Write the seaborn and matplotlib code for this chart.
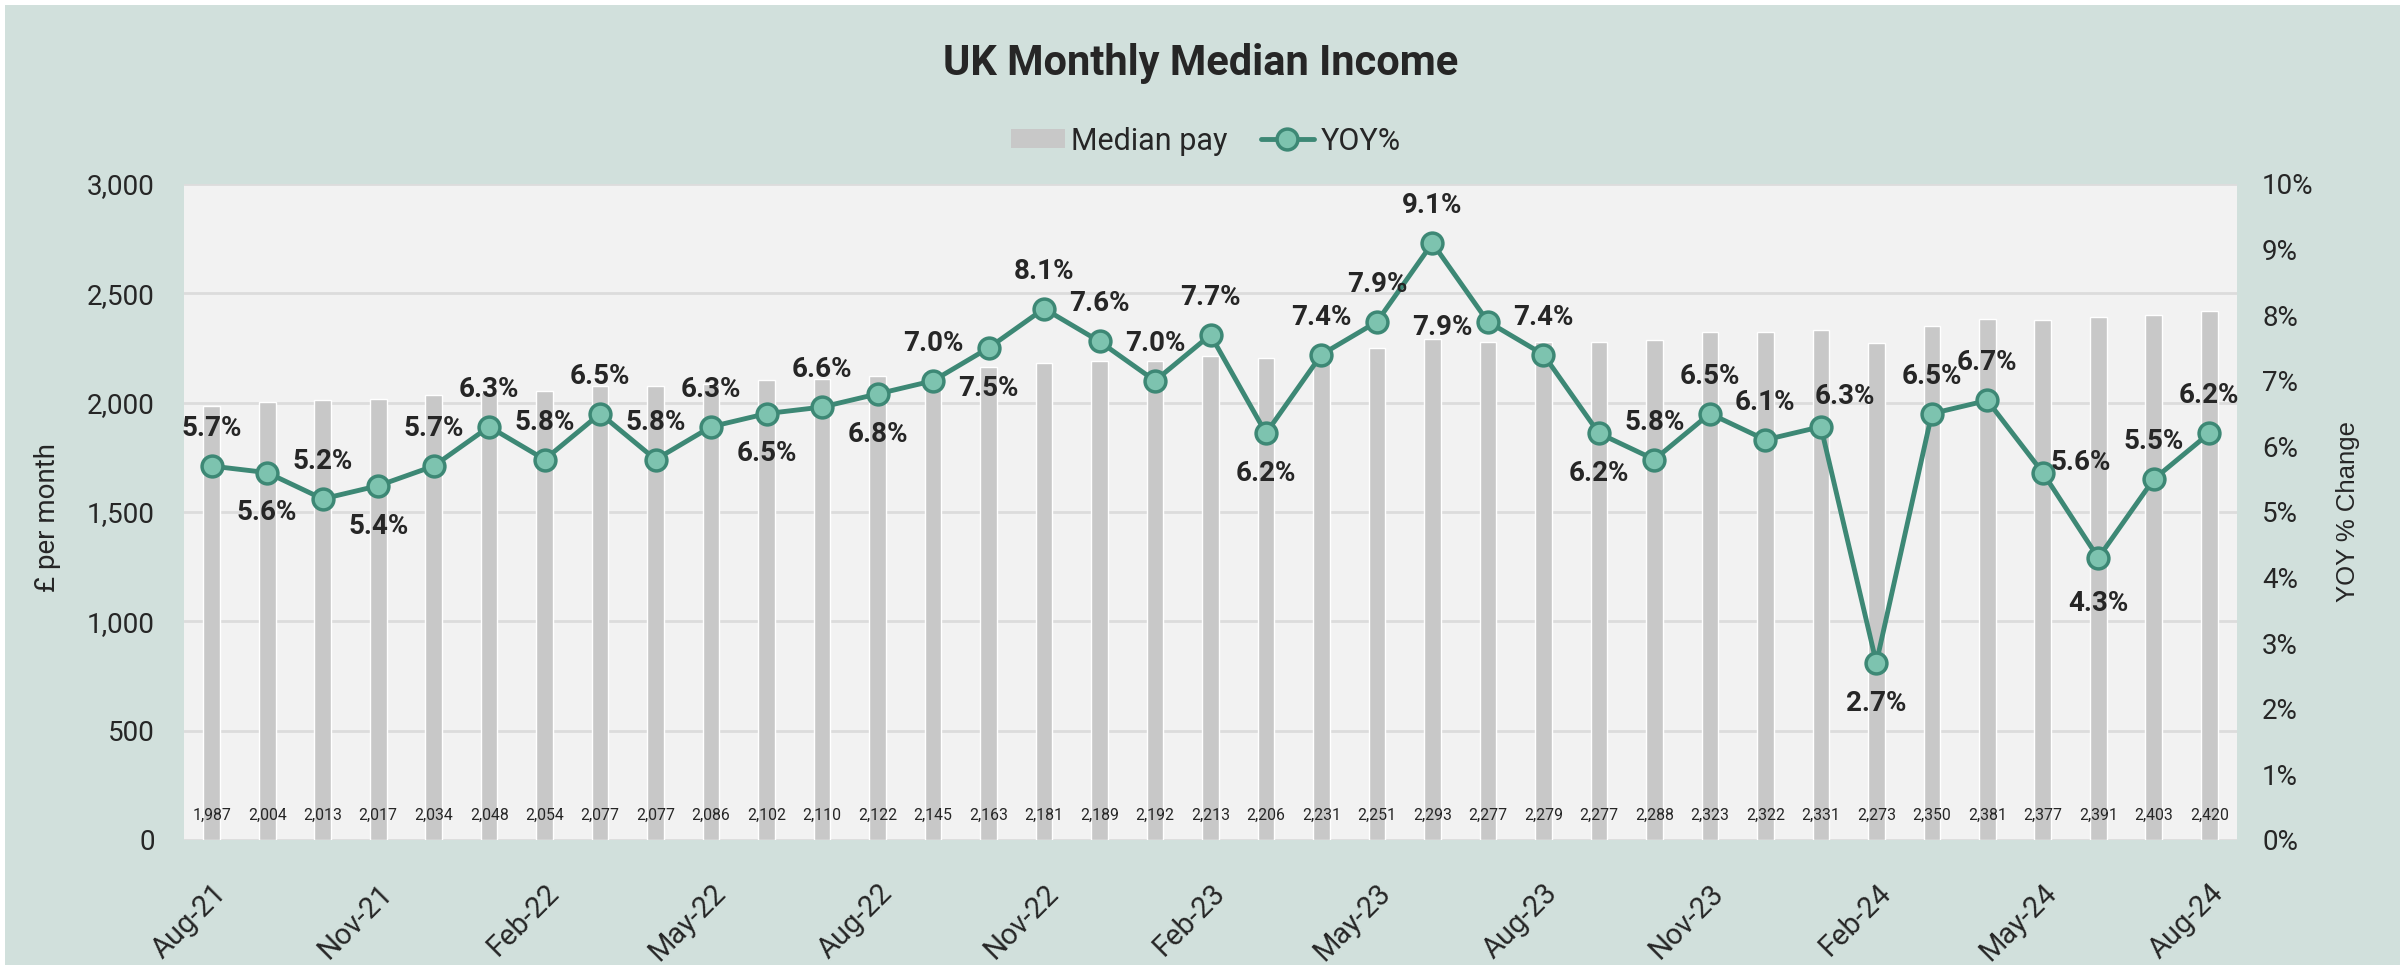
import numpy as np
import matplotlib
matplotlib.use("Agg")
import matplotlib.pyplot as plt
import matplotlib.transforms as mtrans
from matplotlib.patches import Patch, Rectangle
from matplotlib.lines import Line2D
from matplotlib.ticker import FuncFormatter, MultipleLocator
import seaborn as sns

# ---------------- data ----------------
months = ["Aug-21", "Sep-21", "Oct-21", "Nov-21", "Dec-21", "Jan-22", "Feb-22",
          "Mar-22", "Apr-22", "May-22", "Jun-22", "Jul-22", "Aug-22", "Sep-22",
          "Oct-22", "Nov-22", "Dec-22", "Jan-23", "Feb-23", "Mar-23", "Apr-23",
          "May-23", "Jun-23", "Jul-23", "Aug-23", "Sep-23", "Oct-23", "Nov-23",
          "Dec-23", "Jan-24", "Feb-24", "Mar-24", "Apr-24", "May-24", "Jun-24",
          "Jul-24", "Aug-24"]
median_pay = [1987, 2004, 2013, 2017, 2034, 2048, 2054, 2077, 2077, 2086, 2102,
              2110, 2122, 2145, 2163, 2181, 2189, 2192, 2213, 2206, 2231, 2251,
              2293, 2277, 2279, 2277, 2288, 2323, 2322, 2331, 2273, 2350, 2381,
              2377, 2391, 2403, 2420]
yoy_pct = [5.7, 5.6, 5.2, 5.4, 5.7, 6.3, 5.8, 6.5, 5.8, 6.3, 6.5, 6.6, 6.8, 7.0,
           7.5, 8.1, 7.6, 7.0, 7.7, 6.2, 7.4, 7.9, 9.1, 7.9, 7.4, 6.2, 5.8, 6.5,
           6.1, 6.3, 2.7, 6.5, 6.7, 5.6, 4.3, 5.5, 6.2]
# label placement for YOY labels: a=above, b=below, l=left, r=right, ar=above-right
label_place = ["a", "b", "a", "b", "a", "a", "a", "a", "a", "a", "b", "a", "b",
               "a", "b", "a", "a", "a", "a", "b", "a", "a", "a", "l", "a", "b",
               "a", "a", "a", "ar", "b", "a", "a", "r", "b", "a", "a"]

# ---------------- style ----------------
BG = "#D1E0DC"
PLOT_BG = "#F2F2F2"
BAR = "#C8C8C8"
LINE = "#3D8875"
MARK = "#7DC3AF"
TXT = "#262626"

sns.set_theme(style="white")
plt.rcParams["font.family"] = ["Roboto", "DejaVu Sans"]

W, H = 2402, 966
fig = plt.figure(figsize=(W / 100, H / 100), dpi=100)
fig.patch.set_facecolor("white")
fig.patches.append(Rectangle((5 / W, 1 / H), (W - 7) / W, (H - 6) / H,
                             transform=fig.transFigure, facecolor=BG,
                             edgecolor="none", zorder=-10))

L, R, T, B = 184, 2237, 184, 840
ax = fig.add_axes([L / W, 1 - B / H, (R - L) / W, (B - T) / H])
ax.set_facecolor(PLOT_BG)

n = len(months)
sns.barplot(x=months, y=median_pay, order=months, ax=ax, color=BAR,
            saturation=1, width=0.30, zorder=2)
ax.set_ylim(0, 3000)
ax.yaxis.set_major_locator(MultipleLocator(500))
ax.yaxis.set_major_formatter(FuncFormatter(lambda v, p: f"{v:,.0f}"))
ax.grid(axis="y", color="#DCDCDC", lw=2, zorder=0)
ax.grid(axis="x", visible=False)
ax.set_axisbelow(True)
for s in ax.spines.values():
    s.set_visible(False)
ax.set_xlabel("")
ax.set_ylabel("")
ax.set_xticks(range(0, n, 3))
ax.set_xticklabels(months[::3], rotation=45, ha="right", rotation_mode="anchor",
                   fontsize=21, color=TXT)
ax.tick_params(axis="x", length=0, pad=28)
ax.tick_params(axis="y", length=0, pad=21, labelsize=20, labelcolor=TXT)

# bar value labels near base
trans = mtrans.blended_transform_factory(ax.transData, ax.transAxes)
for i, v in enumerate(median_pay):
    ax.text(i, 0.037, f"{v:,}", transform=trans, ha="center", va="center",
            fontsize=11.4, color=TXT, zorder=5)

# YOY line
ax2 = ax.twinx()
sns.lineplot(x=np.arange(n), y=yoy_pct, ax=ax2, color=LINE, lw=3.5,
             marker="o", markersize=15, markerfacecolor=MARK,
             markeredgecolor=LINE, markeredgewidth=2.5, zorder=5)
ax2.set_ylim(0, 10)
ax2.yaxis.set_major_locator(MultipleLocator(1))
ax2.yaxis.set_major_formatter(FuncFormatter(lambda v, p: f"{v:.0f}%"))
ax2.grid(False)
for s in ax2.spines.values():
    s.set_visible(False)
ax2.tick_params(axis="y", length=0, pad=18, labelsize=20, labelcolor=TXT)
ax2.set_ylabel("")
ax.set_xlim(-0.5, n - 0.5)
ax2.set_xlim(-0.5, n - 0.5)

offsets = {"a": (0, 27), "b": (0, -29), "l": (-33, -4), "r": (27, 7),
           "ar": (17, 22)}
for i, (v, p) in enumerate(zip(yoy_pct, label_place)):
    dx, dy = offsets[p]
    if i == 34:
        dy = -33
    ax2.annotate(f"{v:.1f}%", (i, v), xytext=(dx, dy), textcoords="offset points",
                 ha="center", va="center", fontsize=20, fontweight="bold",
                 color=TXT, zorder=6)

# titles / axis labels
fig.text(0.5, 1 - 64 / H, "UK Monthly Median Income", ha="center", va="center",
         fontsize=30, fontweight="bold", color=TXT)
fig.text(48 / W, 1 - 517 / H, "£ per month", rotation=90, ha="center",
         va="center", fontsize=20, color=TXT)
fig.text(2348 / W, 1 - 512 / H, "YOY % Change", rotation=90, ha="center",
         va="center", fontsize=18.5, color=TXT,
         family=["Liberation Sans", "DejaVu Sans"])

handles = [Patch(facecolor=BAR, edgecolor="none", label="Median pay"),
           Line2D([0], [0], color=LINE, lw=3.5, marker="o", markersize=15,
                  markerfacecolor=MARK, markeredgecolor=LINE,
                  markeredgewidth=2.5, label="YOY%")]
fig.legend(handles=handles, loc="center", bbox_to_anchor=(0.502, 1 - 141 / H),
           ncol=2, frameon=False, fontsize=22, handlelength=1.75,
           handleheight=0.6, handletextpad=0.2, columnspacing=1.1,
           labelcolor=TXT)

fig.savefig("out.png", dpi=100, facecolor=fig.get_facecolor())
